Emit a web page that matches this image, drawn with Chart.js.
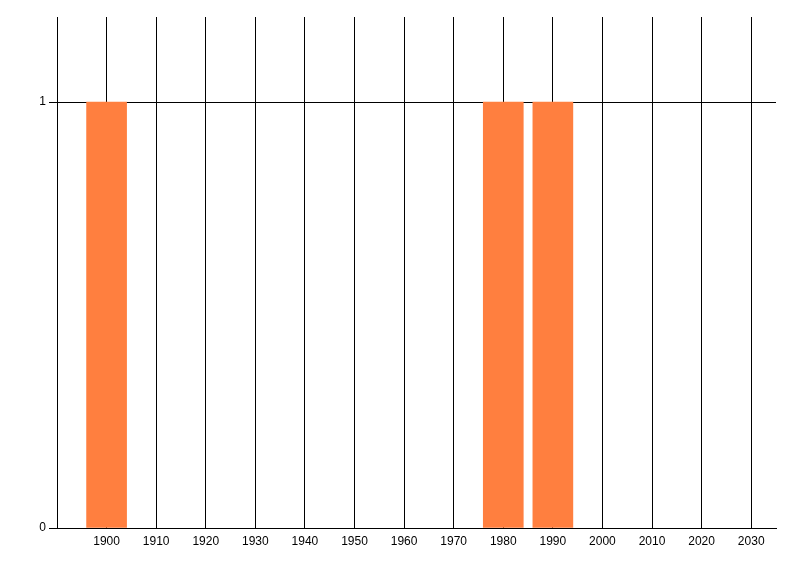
<!DOCTYPE html>
<html>
<head>
<meta charset="utf-8">
<script src="https://cdn.jsdelivr.net/npm/chart.js@4"></script>
<style>
  html, body { margin: 0; padding: 0; background: #fff; }
  #wrap { width: 800px; height: 576px; }
</style>
</head>
<body>
<div id="wrap"><canvas id="mycanvas" width="800" height="576"></canvas></div>
<script>
// data
var years = [1900, 1980, 1990];
var counts = [1, 1, 1];
var xTicks = [1900, 1910, 1920, 1930, 1940, 1950, 1960, 1970, 1980, 1990, 2000, 2010, 2020, 2030];
var yTicks = [0, 1];

var points = [];
for (var i in years) {
  points.push({x: years[i], y: counts[i]});
}

var chartdata = {
  datasets: [
    {
      label: "count",
      backgroundColor: "rgb(255, 127, 63)",
      borderWidth: 0,
      barThickness: 40,
      data: points
    }
  ]
};

var fontSpec = {family: "'Liberation Sans Narrow', 'Liberation Sans', Arial, sans-serif", size: 12};

var opt = {
  animation: false,
  responsive: false,
  layout: {padding: {top: 17, right: 24, left: 0, bottom: 0}},
  plugins: {legend: {display: false}, tooltip: {enabled: false}},
  scales: {
    x: {
      type: 'linear',
      min: 1890,
      max: 2035,
      offset: false,
      afterBuildTicks: function(scale) {
        scale.ticks = xTicks.map(function(v) { return {value: v}; });
      },
      afterFit: function(scale) { scale.height = 48; },
      grid: {color: '#000', lineWidth: 1, drawTicks: false, offset: false},
      border: {color: '#000', width: 1},
      ticks: {color: '#000', font: fontSpec, padding: 6, maxRotation: 0, autoSkip: false,
        callback: function(v) { return String(v); }}
    },
    y: {
      min: 0,
      max: 1.2,
      afterBuildTicks: function(scale) {
        scale.ticks = yTicks.map(function(v) { return {value: v}; });
      },
      afterFit: function(scale) { scale.width = 57; },
      grid: {color: '#000', lineWidth: 1, tickLength: 8},
      border: {color: '#000', width: 1},
      ticks: {color: '#000', font: fontSpec, padding: 3}
    }
  }
};

var ctx = document.getElementById("mycanvas");
var BarGraph = new Chart(ctx, {
  type: 'bar',
  data: chartdata,
  options: opt
});
</script>
</body>
</html>
